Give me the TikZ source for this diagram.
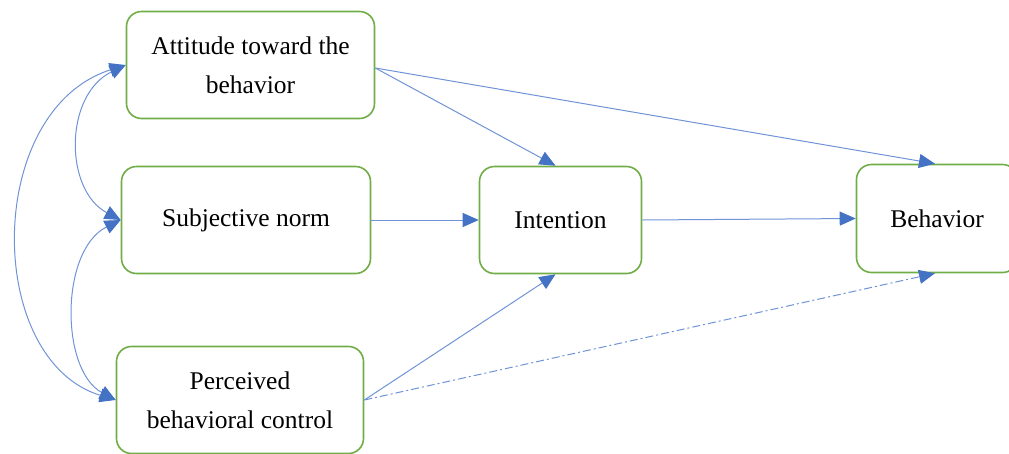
\documentclass[tikz,border=0pt]{standalone}
\usepackage{fontspec}
\setmainfont{Liberation Serif}
\usetikzlibrary{arrows.meta}
\definecolor{boxgreen}{HTML}{70AD47}
\definecolor{linkblue}{HTML}{6F93D6}
\definecolor{tipblue}{HTML}{4472C4}
\begin{document}
\begin{tikzpicture}[x=1pt,y=-1pt,
  construct/.style={draw=boxgreen, line width=1.6pt, rounded corners=15pt,
    align=center, inner sep=0pt, font=\fontsize{25.5}{39}\selectfont},
  link/.style={draw=linkblue, line width=1pt},
  >={Triangle[length=16pt,width=14pt,color=tipblue]}]
\useasboundingbox (0,0) rectangle (1009,453);
\clip (0,0) rectangle (1009,453);

% constructs
\node[construct, minimum width=248pt, minimum height=107pt] (att) at (250.5,65)
  {Attitude toward the\\behavior};
\node[construct, minimum width=249pt, minimum height=107pt] (sn) at (246,220)
  {Subjective norm};
\node[construct, minimum width=247pt, minimum height=107pt] (pbc) at (240,400)
  {Perceived\\behavioral control};
\node[construct, minimum width=162pt, minimum height=107pt] (int) at (560.5,220)
  {Intention};
\node[construct, minimum width=161pt, minimum height=108pt] (beh) at (937,218.5)
  {Behavior};

% correlations among the antecedents
\draw[link,<->] (att.west) .. controls (64,95) and (64,190) .. (sn.west);
\draw[link,<->] (sn.west) .. controls (60,250) and (60,370) .. (pbc.west);
\draw[link,<->] (att.west) .. controls (-16,110) and (-16,360) .. (pbc.west);

% paths
\draw[link,->] ([yshift=-3pt]att.east) -- ([xshift=-5pt]int.north);
\draw[link,->] ([yshift=-3pt]att.east) -- ([xshift=-2pt]beh.north);
\draw[link,->] (sn.east) -- (int.west);
\draw[link,->] (int.east) -- (beh.west);
\draw[link,->] (pbc.east) -- ([xshift=-5pt]int.south);
\draw[link,->,dash pattern=on 8pt off 3pt on 2pt off 3pt]
  (pbc.east) -- ([xshift=-2pt]beh.south);
\end{tikzpicture}
\end{document}
